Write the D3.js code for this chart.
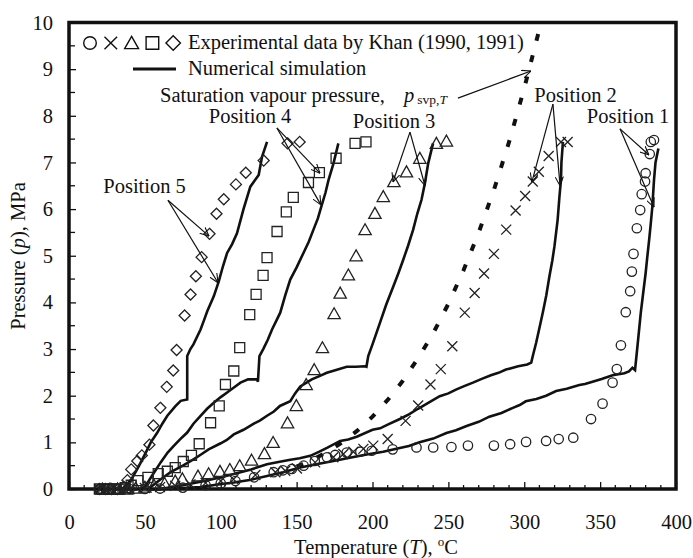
<!DOCTYPE html>
<html>
<head>
<meta charset="utf-8">
<script src="https://cdn.jsdelivr.net/npm/d3@7"></script>
<style>
body { margin: 0; background: #fff; }
</style>
</head>
<body>
<svg width="693" height="558"></svg>
<script>
// experimental data, Khan (1990, 1991): [T degC, p MPa]
var pos1Circles = [[20,0],[26,0],[32,0],[40,0],[50,0],[60,0.01],[75,0.03],[90,0.08],[100,0.12],[109.7,0.17],[122,0.25],[134.9,0.36],[141,0.4],[146.9,0.43],[154.6,0.5],[162,0.6],[170,0.68],[175.4,0.73],[183,0.78],[192,0.8],[199.5,0.82],[213.3,0.85],[229,0.89],[240,0.89],[252,0.9],[262.9,0.93],[280,0.93],[290.7,0.96],[301.2,1.01],[314.4,1.03],[322.7,1.07],[332.3,1.1],[344,1.5],[351.6,1.83],[358.2,2.28],[361,2.57],[363.7,3.08],[366.9,3.79],[369.8,4.24],[370.9,4.66],[372,5.04],[374.2,5.59],[376.4,5.98],[377.4,6.32],[379.6,6.59],[380,6.77],[382.7,7.18],[383.4,7.44],[385.5,7.48]];
var pos2Crosses = [[20,0],[26,0],[32,0],[40,0],[50,0.02],[60,0.04],[70,0.07],[80,0.1],[90,0.13],[100,0.17],[108.4,0.21],[122.8,0.3],[136,0.36],[142.5,0.39],[150.2,0.44],[162.2,0.57],[174.2,0.68],[180.8,0.75],[187.4,0.8],[194,0.86],[200.5,0.93],[210,1.07],[221.8,1.46],[230.1,1.79],[238.2,2.24],[245,2.57],[252.6,3.06],[260.8,3.78],[267.3,4.2],[273.5,4.62],[280,5.04],[288.1,5.56],[294.3,5.97],[300.6,6.28],[305.6,6.59],[309.6,6.8],[316.1,7.14],[324.2,7.44],[328.6,7.44]];
var pos3Triangles = [[22,0],[27,0],[32,0],[38,0],[44,0.02],[50,0.04],[56,0.08],[63,0.12],[70,0.17],[74.7,0.22],[85,0.28],[92,0.33],[99.5,0.38],[106,0.42],[112.5,0.5],[120.3,0.62],[128.8,0.76],[134.5,1.0],[144,1.42],[149.8,1.79],[156.3,2.24],[161.6,2.56],[167,3.03],[174.7,3.76],[178.7,4.2],[184.1,4.59],[189.2,5.0],[195.1,5.56],[201.6,5.91],[207.1,6.27],[214.1,6.59],[222.4,6.8],[231.2,7.09],[242.1,7.41],[248.7,7.46]];
var pos4Squares = [[20,0],[23,0],[26,0],[29,0],[33,0],[37,0.03],[41,0.08],[45.5,0.18],[52,0.25],[58.8,0.33],[64.8,0.38],[70,0.46],[75.3,0.59],[80.7,0.72],[85.8,0.97],[93.3,1.42],[99,1.78],[103.1,2.24],[108.6,2.53],[112.5,3.03],[119.1,3.74],[123.3,4.17],[127.9,4.58],[130.5,4.96],[137.1,5.52],[143.2,5.94],[147.8,6.25],[157.8,6.57],[165,6.78],[176,7.09],[188.5,7.41],[195.7,7.44]];
var pos5Diamonds = [[20,0],[24,0],[28,0],[32,0],[36,0.05],[38.5,0.19],[41,0.42],[45,0.6],[48,0.72],[53,0.95],[55.6,1.36],[60.2,1.74],[64.4,2.19],[68.7,2.54],[70.9,2.98],[76.2,3.72],[80.1,4.17],[83.6,4.56],[87.4,4.97],[92.6,5.47],[97.2,5.9],[102,6.21],[110,6.53],[116.5,6.78],[128.3,7.04],[144,7.41],[152,7.44]];

// numerical simulation (jagged curves as read)
var sim1 = [[62,0],[75,0.02],[86.7,0.04],[97,0.09],[108.6,0.14],[120,0.2],[130.5,0.28],[141,0.36],[152.4,0.46],[163,0.53],[174.3,0.6],[185,0.67],[196.2,0.74],[207,0.8],[218,0.88],[224,0.92],[231,1.0],[240,1.08],[248.7,1.2],[255,1.26],[262,1.35],[270,1.44],[277,1.55],[285,1.63],[292.5,1.74],[297,1.8],[301,1.88],[308,1.93],[314.4,2.0],[321,2.1],[328,2.15],[336.3,2.23],[340,2.25],[345,2.3],[351,2.36],[358.2,2.44],[366,2.48],[369,2.52],[371.3,2.6],[373,2.55],[374.6,3.06],[376.8,3.78],[378,4.1],[380,4.63],[381,4.95],[382.3,5.34],[383.4,5.7],[384.4,6.05],[385.5,6.62],[386.5,7.0],[388.4,7.3]];
var sim2 = [[60,0],[75,0.08],[90,0.18],[100,0.25],[108.6,0.32],[120,0.42],[130.5,0.53],[138,0.58],[145,0.62],[152,0.66],[159,0.71],[165,0.8],[170,0.88],[178.7,1.03],[184,1.06],[189.6,1.12],[200,1.27],[205,1.3],[210,1.38],[218,1.5],[224,1.6],[230,1.72],[237,1.85],[244.3,1.99],[250,2.05],[255,2.13],[260,2.2],[266.2,2.28],[272,2.36],[278,2.44],[283,2.49],[288,2.56],[296,2.63],[302,2.67],[304.6,2.71],[306,2.9],[307.8,3.13],[310,3.45],[312.2,3.78],[314.5,4.15],[316.6,4.56],[318.5,4.9],[319.9,5.2],[322,5.77],[323.2,6.27],[324.2,6.62],[324.5,7.0],[325.5,7.44]];
var sim3 = [[52,0],[55,0.07],[60,0.2],[67,0.36],[75,0.5],[82.3,0.64],[87,0.74],[92,0.85],[100,0.98],[104,1.05],[108.6,1.17],[115,1.27],[121.8,1.4],[126,1.47],[130.5,1.57],[135,1.66],[139,1.78],[145.8,1.88],[149,2.05],[152.4,2.2],[156,2.27],[160,2.35],[165,2.42],[169.9,2.49],[176,2.55],[183,2.62],[189,2.62],[195.1,2.63],[196,2.62],[197.2,2.85],[200,3.1],[204.9,3.56],[209,3.95],[213.7,4.34],[217,4.62],[220.2,4.91],[223.5,5.22],[226.8,5.56],[229.5,5.9],[232.3,6.2],[234.5,6.55],[236.7,6.98],[239.9,7.41]];
var sim4 = [[48,0],[50.6,0.07],[55,0.3],[60.4,0.57],[65,0.78],[69.2,0.93],[73,1.06],[77.9,1.21],[82,1.4],[86.7,1.57],[91,1.72],[95.4,1.85],[100,1.97],[104.2,2.07],[108,2.16],[113,2.28],[118,2.35],[123.9,2.35],[124.5,2.3],[125.5,2.85],[128,3.0],[131,3.2],[133.8,3.42],[136.5,3.6],[139.2,3.78],[142.5,4.15],[145.8,4.49],[150,4.75],[154.5,5.06],[158,5.3],[161.1,5.56],[164,5.8],[166.6,6.09],[169,6.35],[171,6.62],[174.3,6.98],[177.5,7.41]];
var sim5 = [[35,0],[37.4,0.07],[41.2,0.21],[46.2,0.5],[50.6,0.78],[53.9,1.0],[58,1.2],[61.5,1.4],[64.8,1.57],[70,1.77],[73.6,1.89],[77.9,1.92],[77.9,2.85],[80,3.0],[82,3.1],[86.7,3.42],[89,3.62],[91.1,3.81],[95.4,4.13],[98.7,4.45],[101.5,4.78],[104.2,5.06],[107.5,5.25],[110.7,5.48],[115,6.0],[119.5,6.48],[125,6.73],[127.2,7.12],[130.5,7.44]];

// saturation vapour pressure
var svpT = [150,160,170,180,190,200,210,220,230,240,250,260,270,280,290,300,310,311];
var svpP = [0.48,0.62,0.79,1.0,1.25,1.55,1.91,2.32,2.8,3.34,3.97,4.69,5.5,6.41,7.44,8.59,9.86,10];

var xTicks = [0,50,100,150,200,250,300,350,400];
var yTicks = [0,1,2,3,4,5,6,7,8,9,10];

// position labels: label centre [T,p], arrow start, two arrow ends
var positions = [
  {name: "Position 1", at: [368.4,7.85], from: [363.1,7.72], to: [[382.2,7.16],[385.5,6.04]]},
  {name: "Position 2", at: [333.8,8.3],  from: [318.9,8.25], to: [[305,6.58],[323.6,6.5]]},
  {name: "Position 3", at: [214.2,7.74], from: [224.7,7.65], to: [[213.5,6.58],[234.6,6.5]]},
  {name: "Position 4", at: [119.3,7.85], from: [137,7.74],   to: [[165.4,6.77],[166,6.09]]},
  {name: "Position 5", at: [49.8,6.35],  from: [65.2,6.19],  to: [[92.3,5.42],[98.2,4.42]]}
];

var svg = d3.select("svg"),
  width = +svg.attr("width"),
  height = +svg.attr("height");

var serif = "'Liberation Serif', 'Times New Roman', Times, serif";
var ink = "#111";
var fs = 20.5;

var x = d3.scaleLinear().domain([0,400]).range([69,676]);
var y = d3.scaleLinear().domain([0,10]).range([489,22.5]);

svg.append("defs").append("marker")
  .attr("id", "arr")
  .attr("viewBox", "0 0 10 10")
  .attr("refX", 10).attr("refY", 5)
  .attr("markerWidth", 9).attr("markerHeight", 9)
  .attr("markerUnits", "userSpaceOnUse")
  .attr("orient", "auto")
  .append("path")
  .attr("d", "M0,0.5 L10,5 L0,9.5")
  .attr("fill", "none")
  .attr("stroke", ink)
  .attr("stroke-width", 1.2);

// axes
var xAxis = d3.axisBottom(x).tickValues(xTicks).tickSize(-7).tickPadding(25);
var gx = svg.append("g").attr("transform", "translate(0," + y(0) + ")").call(xAxis)
  .attr("font-family", serif).attr("font-size", fs);
gx.select(".domain").remove();
gx.selectAll("line").attr("stroke", ink).attr("stroke-width", 1.3);
gx.selectAll("text").attr("fill", ink);
svg.append("g").selectAll("line")
  .data(d3.range(10,400,10).filter(function(d) { return d % 50 != 0; }))
  .enter().append("line")
  .attr("x1", function(d) { return x(d); }).attr("x2", function(d) { return x(d); })
  .attr("y1", y(0)).attr("y2", y(0) - 4)
  .attr("stroke", ink).attr("stroke-width", 1.3);

var yAxis = d3.axisLeft(y).tickValues(yTicks).tickSize(-7).tickPadding(16);
var gy = svg.append("g").attr("transform", "translate(" + x(0) + ",0)").call(yAxis)
  .attr("font-family", serif).attr("font-size", fs);
gy.select(".domain").remove();
gy.selectAll("line").attr("stroke", ink).attr("stroke-width", 1.3);
gy.selectAll("text").attr("fill", ink);
svg.append("g").selectAll("line")
  .data(d3.range(0.5,10,1))
  .enter().append("line")
  .attr("x1", x(0)).attr("x2", x(0) + 6)
  .attr("y1", function(d) { return y(d); }).attr("y2", function(d) { return y(d); })
  .attr("stroke", ink).attr("stroke-width", 1.3);

// frame
svg.append("rect")
  .attr("x", x(0)).attr("y", y(10))
  .attr("width", x(400) - x(0)).attr("height", y(0) - y(10))
  .attr("fill", "none").attr("stroke", ink).attr("stroke-width", 3.5);

// all free text goes in this group so it gets the serif face
var labels = svg.append("g").attr("font-family", serif).attr("font-size", fs).attr("fill", ink);

// axis titles
var xt = labels.append("text").attr("x", 376).attr("y", 554).attr("text-anchor", "middle");
xt.append("tspan").text("Temperature (");
xt.append("tspan").attr("font-style", "italic").text("T");
xt.append("tspan").text("), ");
xt.append("tspan").attr("dy", -8).attr("font-size", 13).text("o");
xt.append("tspan").attr("dy", 8).text("C");

var yt = labels.append("text").attr("transform", "translate(25,256) rotate(-90)").attr("text-anchor", "middle");
yt.append("tspan").text("Pressure (");
yt.append("tspan").attr("font-style", "italic").text("p");
yt.append("tspan").text("), MPa");

svg.append("clipPath").attr("id", "plot").append("rect")
  .attr("x", x(0)).attr("y", y(10)).attr("width", x(400) - x(0)).attr("height", y(0) - y(10));

var line = d3.line()
  .x(function(d) { return x(d[0]); })
  .y(function(d) { return y(d[1]); });

// saturation curve
svg.append("path")
  .datum(d3.zip(svpT, svpP))
  .attr("clip-path", "url(#plot)")
  .attr("d", line)
  .attr("fill", "none").attr("stroke", ink)
  .attr("stroke-width", 4).attr("stroke-dasharray", "7,15");

// simulations
[sim1, sim2, sim3, sim4, sim5].forEach(function(s) {
  svg.append("path")
    .datum(s)
    .attr("d", line)
    .attr("fill", "none").attr("stroke", ink)
    .attr("stroke-width", 2.6).attr("stroke-linejoin", "miter");
});

// marker shapes
function shape(type, r) {
  if (type == "circle") return "M" + r + ",0A" + r + "," + r + " 0 1,1 " + (-r) + ",0A" + r + "," + r + " 0 1,1 " + r + ",0Z";
  if (type == "cross") return "M" + (-r) + "," + (-r) + "L" + r + "," + r + "M" + (-r) + "," + r + "L" + r + "," + (-r);
  if (type == "triangle") return "M0," + (-r * 1.05) + "L" + (r * 1.1) + "," + (r * 0.9) + "L" + (-r * 1.1) + "," + (r * 0.9) + "Z";
  if (type == "square") return "M" + (-r) + "," + (-r) + "H" + r + "V" + r + "H" + (-r) + "Z";
  if (type == "diamond") return "M0," + (-r * 1.15) + "L" + (r * 1.15) + ",0L0," + (r * 1.15) + "L" + (-r * 1.15) + ",0Z";
}

var sets = [
  {data: pos1Circles, type: "circle", r: 4.7},
  {data: pos2Crosses, type: "cross", r: 5},
  {data: pos3Triangles, type: "triangle", r: 5.6},
  {data: pos4Squares, type: "square", r: 5},
  {data: pos5Diamonds, type: "diamond", r: 4.8}
];
sets.forEach(function(s) {
  svg.append("g").selectAll("path")
    .data(s.data)
    .enter().append("path")
    .attr("transform", function(d) { return "translate(" + x(d[0]) + "," + y(d[1]) + ")"; })
    .attr("d", shape(s.type, s.r))
    .attr("fill", "none").attr("stroke", "#222").attr("stroke-width", 1.3);
});

// legend
var legTypes = ["circle", "cross", "triangle", "square", "diamond"];
svg.append("g").selectAll("path")
  .data(legTypes)
  .enter().append("path")
  .attr("transform", function(d, i) { return "translate(" + (90 + i * 20.8) + ",43)"; })
  .attr("d", function(d) { return shape(d, 6.3); })
  .attr("fill", "none").attr("stroke", ink).attr("stroke-width", 1.4);
labels.append("text").attr("x", 188).attr("y", 49).text("Experimental data by Khan (1990, 1991)");
svg.append("line").attr("x1", 133).attr("x2", 176).attr("y1", 69).attr("y2", 69).attr("stroke", ink).attr("stroke-width", 3);
labels.append("text").attr("x", 188).attr("y", 75).text("Numerical simulation");

// saturation label
var st = labels.append("text").attr("x", 160).attr("y", 102);
st.append("tspan").text("Saturation vapour pressure,");
st.append("tspan").attr("x", 404).attr("font-style", "italic").text("p");
st.append("tspan").attr("dx", 3).attr("dy", 2).attr("font-size", 13.5).text("svp,");
st.append("tspan").attr("font-size", 13.5).attr("font-style", "italic").text("T");
svg.append("line")
  .attr("x1", x(256.3)).attr("y1", y(8.38)).attr("x2", x(304.4)).attr("y2", y(8.96))
  .attr("stroke", ink).attr("stroke-width", 1.2).attr("marker-end", "url(#arr)");

// position labels and arrows
positions.forEach(function(p) {
  labels.append("text")
    .attr("x", x(p.at[0])).attr("y", y(p.at[1]))
    .attr("text-anchor", "middle")
    .text(p.name);
  p.to.forEach(function(t) {
    svg.append("line")
      .attr("x1", x(p.from[0])).attr("y1", y(p.from[1]))
      .attr("x2", x(t[0])).attr("y2", y(t[1]))
      .attr("stroke", ink).attr("stroke-width", 1.2).attr("marker-end", "url(#arr)");
  });
});
</script>
</body>
</html>
